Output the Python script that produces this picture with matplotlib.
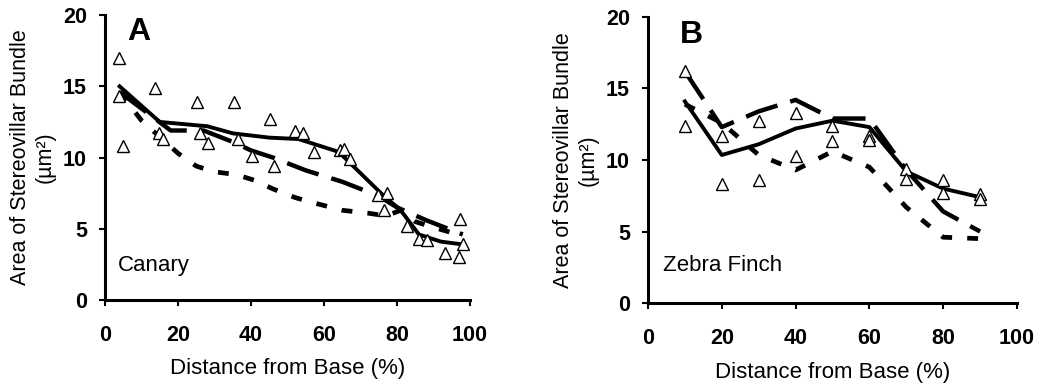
import matplotlib
matplotlib.use("Agg")
import matplotlib.pyplot as plt

plt.rcParams['font.family'] = ['Liberation Sans', 'DejaVu Sans']

# ---- Panel A: Canary ----
canary_pts_x = [3.8, 3.7, 4.8, 13.7, 14.8, 16.0, 25.1, 26.0, 28.1, 35.3, 36.3, 40.2, 45.2, 46.3,
                52.1, 54.2, 57.3, 64.4, 65.5, 67.1, 74.9, 77.2, 76.3, 82.8, 86.1, 88.3, 93.0,
                97.3, 97.1, 98.2]
canary_pts_y = [17.0, 14.3, 10.8, 14.9, 11.7, 11.3, 13.9, 11.7, 11.0, 13.9, 11.3, 10.1, 12.7, 9.4,
                11.9, 11.7, 10.4, 10.5, 10.6, 9.9, 7.4, 7.5, 6.3, 5.2, 4.3, 4.2, 3.3,
                5.7, 3.0, 3.9]

canary_solid_x = [4, 15, 28, 35, 45, 53, 64, 76, 81, 86, 92, 98]
canary_solid_y = [15.0, 12.5, 12.2, 11.7, 11.4, 11.3, 10.4, 7.4, 6.3, 4.6, 4.1, 3.9]

canary_long_x = [4, 18, 27, 35, 40, 46, 55, 65, 75, 80, 88, 98]
canary_long_y = [14.6, 11.9, 11.9, 11.1, 10.5, 10.0, 9.1, 8.3, 7.3, 6.5, 5.6, 4.6]

canary_short_x = [4, 10, 20, 25, 30, 36, 41, 46, 52, 56, 65, 72, 77, 81, 85, 90, 98]
canary_short_y = [14.6, 12.6, 10.3, 9.4, 9.0, 8.8, 8.4, 7.8, 7.2, 6.9, 6.3, 6.1, 5.9, 6.3, 5.5, 5.1, 4.5]

# ---- Panel B: Zebra Finch ----
finch_pts_x = [10, 10, 20, 20, 30, 30, 40, 40, 50, 50, 60, 60, 70, 70, 80, 80, 90, 90]
finch_pts_y = [16.2, 12.4, 11.7, 8.3, 12.7, 8.6, 13.3, 10.3, 12.4, 11.3, 11.7, 11.4, 9.4, 8.7,
               8.6, 7.7, 7.6, 7.3]

finch_x = [10, 20, 30, 40, 50, 60, 70, 80, 90]
finch_solid_y = [14.1, 10.35, 11.1, 12.2, 12.75, 12.3, 9.2, 8.0, 7.4]
finch_long_y = [16.2, 12.3, 13.4, 14.2, 12.9, 12.9, 9.3, 6.4, 5.0]
finch_short_y = [13.9, 12.6, 10.35, 9.3, 10.6, 9.5, 6.7, 4.6, 4.5]

xticks = [0, 20, 40, 60, 80, 100]
yticks = [0, 5, 10, 15, 20]

fig = plt.figure(figsize=(10.49, 3.86), dpi=100)
axA = fig.add_axes([0.1001, 0.2228, 0.348, 0.738])
axB = fig.add_axes([0.6177, 0.215, 0.3518, 0.741])

LW = 2.8
tri = dict(marker='^', linestyle='none', markersize=8, markerfacecolor='white',
           markeredgecolor='black', markeredgewidth=1.0, zorder=5)


def style(ax):
    ax.set_xlim(0, 100)
    ax.set_ylim(0, 20)
    ax.set_xticks(xticks)
    ax.set_yticks(yticks)
    for s in ['top', 'right']:
        ax.spines[s].set_visible(False)
    for s in ['left', 'bottom']:
        ax.spines[s].set_linewidth(2.2)
    ax.tick_params(axis='both', direction='out', length=4, width=1.5,
                   labelsize=15.5)
    ax.tick_params(axis='x', pad=14)
    ax.tick_params(axis='y', pad=9)
    for lab in ax.get_xticklabels() + ax.get_yticklabels():
        lab.set_fontweight('bold')
    ax.set_xlabel('Distance from Base (%)', fontsize=16, labelpad=9)
    ax.set_ylabel('Area of Stereovillar Bundle\n(µm²)', fontsize=15.5, labelpad=5,
                  linespacing=1.25)


# Panel A
axA.plot(canary_short_x, canary_short_y, color='black', lw=LW + 0.6, dashes=(2.3, 3.2))
axA.plot(canary_long_x, canary_long_y, color='black', lw=LW + 0.4, dashes=(7.5, 3))
axA.plot(canary_solid_x, canary_solid_y, color='black', lw=LW)
axA.plot(canary_pts_x, canary_pts_y, **tri)
style(axA)
axA.text(6, 19.9, 'A', fontsize=23, fontweight='bold', va='top', ha='left')
axA.text(3.6, 2.45, 'Canary', fontsize=16, va='center', ha='left')

# Panel B
axB.plot(finch_x, finch_short_y, color='black', lw=LW + 0.6, dashes=(2.3, 3.2))
axB.plot(finch_x, finch_long_y, color='black', lw=LW + 0.4, dashes=(7.5, 3))
axB.plot(finch_x, finch_solid_y, color='black', lw=LW)
axB.plot(finch_pts_x, finch_pts_y, **tri)
style(axB)
axB.text(8.7, 19.8, 'B', fontsize=23, fontweight='bold', va='top', ha='left')
axB.text(4.1, 2.6, 'Zebra Finch', fontsize=16, va='center', ha='left')

fig.savefig('out.png', dpi=100)
